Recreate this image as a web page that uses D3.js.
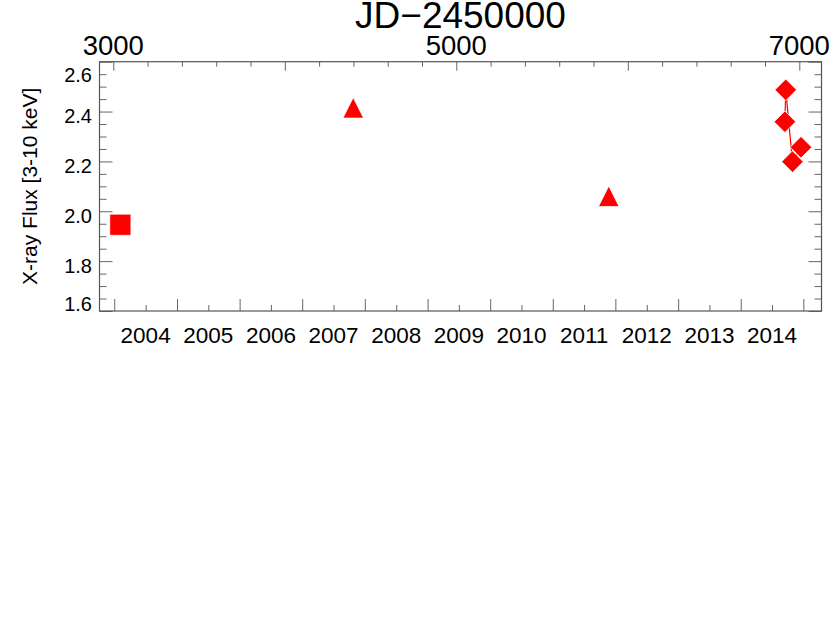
<!DOCTYPE html>
<html>
<head>
<meta charset="utf-8">
<script src="https://cdn.jsdelivr.net/npm/d3@7"></script>
<style>
body { margin: 0; background: #fff; }
text { font-family: "Liberation Sans", Arial, Helvetica, sans-serif; fill: #000; }
</style>
</head>
<body>
<div id="chart"></div>
<script>
// observations: JD-2450000 and flux (3-10 keV)
var squareJD = [3041];
var squareFlux = [1.946];
var triangleJD = [4399, 5889];
var triangleFlux = [2.415, 2.060];
var diamondJD = [6916, 6921, 6960, 7010];
var diamondFlux = [2.359, 2.487, 2.199, 2.257];

// axis labels
var years = [2004, 2005, 2006, 2007, 2008, 2009, 2010, 2011, 2012, 2013, 2014];
var jdMajor = [3000, 4000, 5000, 6000, 7000];
var jdLabels = [3000, 5000, 7000];
var fluxTicks = [1.6, 1.8, 2.0, 2.2, 2.4, 2.6];

function main() {
    var width = 830, height = 623;
    var left = 99.5, right = 821.5, top = 61.7, bottom = 311;

    var svg = d3.select("#chart")
    .append("svg")
    .attr("width", width)
    .attr("height", height);

    var x = d3.scaleLinear().domain([2919.5, 7129.4]).range([left, right]);
    var y = d3.scaleLinear().domain([1.6, 2.6]).range([bottom, top]);

    // calendar year start in JD-2450000
    function yearJD(yr) {
        return Date.UTC(yr, 0, 1) / 86400000 + 2440587.5 - 2450000;
    }

    var yearStarts = years.concat([years[years.length - 1] + 1]).map(yearJD);
    var yearMids = years.map(function(yr) { return (yearJD(yr) + yearJD(yr + 1)) / 2; });

    var jdMinor = d3.range(3000, 7001, 200).filter(function(v) { return v % 1000 != 0; });
    var fluxMinor = d3.range(1.65, 2.6, 0.05).filter(function(v) {
        return Math.abs(v * 5 - Math.round(v * 5)) > 0.01;
    });

    var tickColor = "#666";

    function styleAxis(g) {
        g.select(".domain").remove();
        g.selectAll(".tick line").attr("stroke", tickColor).attr("stroke-width", 1);
    }

    // bottom: years
    svg.append("g").attr("transform", "translate(0," + bottom + ")")
    .call(d3.axisBottom(x).tickValues(yearStarts).tickSize(-12).tickFormat(""))
    .call(styleAxis);
    svg.append("g").attr("transform", "translate(0," + bottom + ")")
    .call(d3.axisBottom(x).tickValues(yearMids).tickSize(-6).tickFormat(""))
    .call(styleAxis);

    svg.selectAll(".year-label")
    .data(years)
    .enter().append("text")
    .attr("class", "year-label")
    .attr("x", function(d, i) { return x(yearMids[i]); })
    .attr("y", 342.7)
    .attr("text-anchor", "middle")
    .style("font-size", "22.5px")
    .text(function(d) { return d; });

    // top: JD
    svg.append("g").attr("transform", "translate(0," + top + ")")
    .call(d3.axisTop(x).tickValues(jdMajor).tickSize(-9).tickFormat(""))
    .call(styleAxis);
    svg.append("g").attr("transform", "translate(0," + top + ")")
    .call(d3.axisTop(x).tickValues(jdMinor).tickSize(-5).tickFormat(""))
    .call(styleAxis);

    svg.selectAll(".jd-label")
    .data(jdLabels)
    .enter().append("text")
    .attr("class", "jd-label")
    .attr("x", function(d) { return x(d); })
    .attr("y", 55)
    .attr("text-anchor", "middle")
    .style("font-size", "27.5px")
    .text(function(d) { return d; });

    svg.append("text")
    .attr("x", (left + right) / 2)
    .attr("y", 28)
    .attr("text-anchor", "middle")
    .style("font-size", "37px")
    .text("JD\u22122450000");

    // left and right: flux
    [[d3.axisLeft, left], [d3.axisRight, right]].forEach(function(a) {
        svg.append("g").attr("transform", "translate(" + a[1] + ",0)")
        .call(a[0](y).tickValues(fluxTicks).tickSize(-13).tickFormat(""))
        .call(styleAxis);
        svg.append("g").attr("transform", "translate(" + a[1] + ",0)")
        .call(a[0](y).tickValues(fluxMinor).tickSize(-7).tickFormat(""))
        .call(styleAxis);
    });

    svg.selectAll(".flux-label")
    .data(fluxTicks)
    .enter().append("text")
    .attr("class", "flux-label")
    .attr("x", 92)
    .attr("y", function(d) { return Math.max(top + 20, Math.min(bottom, y(d) + 11.5)); })
    .attr("text-anchor", "end")
    .style("font-size", "20px")
    .text(function(d) { return d.toFixed(1); });

    svg.append("text")
    .attr("transform", "translate(37," + ((top + bottom) / 2) + ") rotate(-90)")
    .attr("text-anchor", "middle")
    .style("font-size", "21px")
    .text("X-ray Flux [3-10 keV]");

    // frame
    svg.append("rect")
    .attr("x", left).attr("y", top)
    .attr("width", right - left).attr("height", bottom - top)
    .attr("fill", "none")
    .attr("stroke", "#555")
    .attr("stroke-width", 1.2);

    // markers
    var red = "#ff0000";

    svg.append("path")
    .datum(d3.zip(diamondJD, diamondFlux))
    .attr("fill", "none")
    .attr("stroke", red)
    .attr("stroke-width", 1.2)
    .attr("d", d3.line().x(function(d) { return x(d[0]); }).y(function(d) { return y(d[1]); }));

    function squarePath(r) { return "M" + (-r) + "," + (-r) + "H" + r + "V" + r + "H" + (-r) + "Z"; }
    function trianglePath(r) { return "M0," + (-r) + "L" + r + "," + r + "H" + (-r) + "Z"; }
    function diamondPath(r) { return "M0," + (-r) + "L" + r + ",0L0," + r + "L" + (-r) + ",0Z"; }

    function drawMarkers(jd, flux, shape) {
        svg.selectAll(null)
        .data(d3.zip(jd, flux))
        .enter().append("path")
        .attr("transform", function(d) { return "translate(" + x(d[0]) + "," + y(d[1]) + ")"; })
        .attr("d", shape)
        .attr("fill", red)
        .attr("stroke", "#fff")
        .attr("stroke-width", 0.8);
    }

    drawMarkers(squareJD, squareFlux, squarePath(10.6));
    drawMarkers(triangleJD, triangleFlux, trianglePath(10.3));
    drawMarkers(diamondJD, diamondFlux, diamondPath(10.8));
}

main();
</script>
</body>
</html>
